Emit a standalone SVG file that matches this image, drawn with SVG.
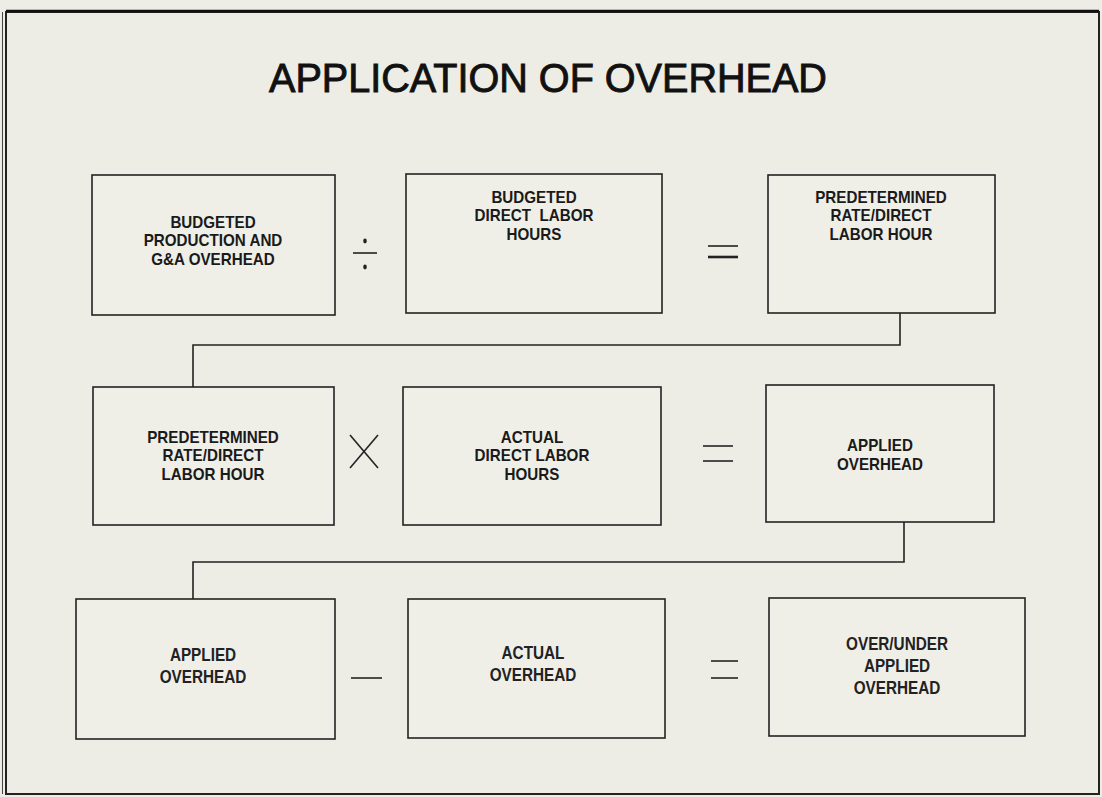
<svg xmlns="http://www.w3.org/2000/svg" width="1102" height="797" viewBox="0 0 1102 797">
<style>
.bg{fill:#ededE5}
.frame{fill:none;stroke:#222;stroke-width:2}
.box{fill:#efefe8;stroke:#222;stroke-width:1.6}
.lbl{font-family:"Liberation Sans",Arial,sans-serif;font-size:16px;font-weight:bold;fill:#1a1a1a;text-anchor:middle}
.lbl3{font-family:"Liberation Sans",Arial,sans-serif;font-size:18px;font-weight:bold;fill:#222;text-anchor:middle}
.title{font-family:"Liberation Sans",Arial,sans-serif;font-size:40px;fill:#111;stroke:#111;stroke-width:0.9;text-anchor:middle}
.conn{fill:none;stroke:#222;stroke-width:1.6}
.op{fill:none;stroke:#222;stroke-width:1.6}
</style>
<rect class="bg" x="0" y="0" width="1102" height="797"/>
<rect class="frame" x="6" y="12" width="1093" height="782"/>
<line x1="2.5" y1="12" x2="2.5" y2="794" stroke="#444" stroke-width="1"/>
<line x1="6" y1="11" x2="1099" y2="11" stroke="#111" stroke-width="2.5"/>
<text class="title" x="548" y="92" transform="translate(548 0) scale(0.99 1.03) translate(-548 -2.6)">APPLICATION OF OVERHEAD</text>

<g id="connectors">
<polyline class="conn" points="900,313 900,345 193,345 193,387"/>
<polyline class="conn" points="904,522 904,562 193,562 193,599"/>
</g>

<g id="operators">
<line class="op" x1="353" y1="253" x2="377" y2="253"/>
<ellipse cx="365" cy="241" rx="1.8" ry="2.4" fill="#222"/>
<ellipse cx="365" cy="267" rx="1.8" ry="2.4" fill="#222"/>
<line class="op" x1="708" y1="246" x2="738" y2="246"/>
<line x1="708" y1="257" x2="738" y2="257" stroke="#222" stroke-width="2.6"/>
<line class="op" x1="350" y1="435" x2="378" y2="468"/>
<line class="op" x1="378" y1="435" x2="350" y2="468"/>
<line class="op" x1="703" y1="446" x2="733" y2="446"/>
<line class="op" x1="703" y1="461" x2="733" y2="461"/>
<line class="op" x1="351" y1="678" x2="382" y2="678"/>
<line class="op" x1="711" y1="661" x2="738" y2="661"/>
<line class="op" x1="711" y1="678" x2="738" y2="678"/>
</g>

<g id="n1">
<rect class="box" x="92" y="175" width="243" height="140"/>
<g transform="translate(213 0) scale(0.95 1)"><text class="lbl" x="0" y="228">BUDGETED</text><text class="lbl" x="0" y="246.5">PRODUCTION AND</text><text class="lbl" x="0" y="265">G&amp;A OVERHEAD</text></g>
</g>
<g id="n2">
<rect class="box" x="406" y="174" width="256" height="139"/>
<g transform="translate(534 0) scale(0.95 1)"><text class="lbl" x="0" y="203">BUDGETED</text><text class="lbl" x="0" y="221.5" xml:space="preserve">DIRECT  LABOR</text><text class="lbl" x="0" y="240">HOURS</text></g>
</g>
<g id="n3">
<rect class="box" x="768" y="175" width="227" height="138"/>
<g transform="translate(881 0) scale(0.95 1)"><text class="lbl" x="0" y="203">PREDETERMINED</text><text class="lbl" x="0" y="221.5">RATE/DIRECT</text><text class="lbl" x="0" y="240">LABOR HOUR</text></g>
</g>
<g id="n4">
<rect class="box" x="93" y="387" width="241" height="138"/>
<g transform="translate(213 0) scale(0.95 1)"><text class="lbl" x="0" y="443">PREDETERMINED</text><text class="lbl" x="0" y="461.5">RATE/DIRECT</text><text class="lbl" x="0" y="480">LABOR HOUR</text></g>
</g>
<g id="n5">
<rect class="box" x="403" y="387" width="258" height="138"/>
<g transform="translate(532 0) scale(0.95 1)"><text class="lbl" x="0" y="443">ACTUAL</text><text class="lbl" x="0" y="461.5">DIRECT LABOR</text><text class="lbl" x="0" y="480">HOURS</text></g>
</g>
<g id="n6">
<rect class="box" x="766" y="385" width="228" height="137"/>
<g transform="translate(880 0) scale(0.95 1)"><text class="lbl" x="0" y="451">APPLIED</text><text class="lbl" x="0" y="470">OVERHEAD</text></g>
</g>
<g id="n7">
<rect class="box" x="76" y="599" width="259" height="140"/>
<g transform="translate(203 0) scale(0.85 1)"><text class="lbl3" x="0" y="661">APPLIED</text><text class="lbl3" x="0" y="683">OVERHEAD</text></g>
</g>
<g id="n8">
<rect class="box" x="408" y="599" width="257" height="139"/>
<g transform="translate(533 0) scale(0.85 1)"><text class="lbl3" x="0" y="659">ACTUAL</text><text class="lbl3" x="0" y="681">OVERHEAD</text></g>
</g>
<g id="n9">
<rect class="box" x="769" y="598" width="256" height="138"/>
<g transform="translate(897 0) scale(0.85 1)"><text class="lbl3" x="0" y="650">OVER/UNDER</text><text class="lbl3" x="0" y="672">APPLIED</text><text class="lbl3" x="0" y="694">OVERHEAD</text></g>
</g>
</svg>
